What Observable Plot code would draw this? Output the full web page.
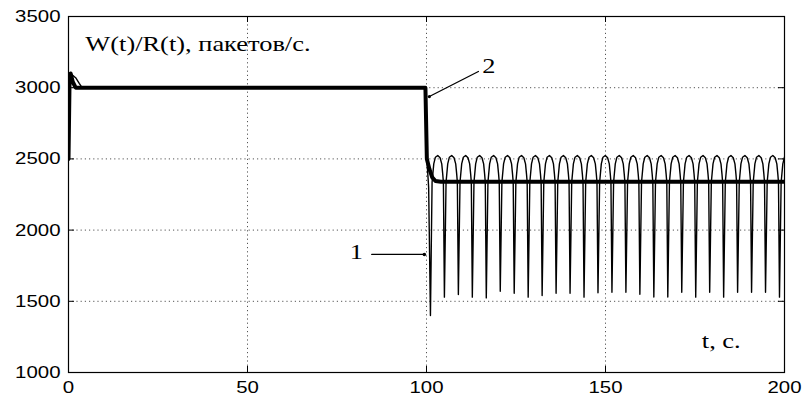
<!DOCTYPE html>
<html><head><meta charset="utf-8">
<script src="https://cdn.jsdelivr.net/npm/d3@7"></script>
<script src="https://cdn.jsdelivr.net/npm/@observablehq/plot@0.6"></script>
<style>html,body{margin:0;padding:0;background:#fff} svg{display:block}</style>
</head><body><div id="chart"></div>
<script>
// ---- axes ----
const xTicks = [0, 50, 100, 150, 200];
const yTicks = [1000, 1500, 2000, 2500, 3000, 3500];
const gridX = [50, 100, 150];
const gridY = [1500, 2000, 2500, 3000];

// ---- curve 2 (thick): W(t)/R(t) smooth ----
const t2 = [0, 0.3, 0.6, 1.2, 2.0, 99.7, 100.1, 100.8, 101.6, 102.5, 104, 200];
const w2 = [2500, 3060, 3100, 3040, 3000, 3000, 2500, 2430, 2370, 2345, 2340, 2340];

// ---- curve 1 (thin): lead-in before oscillations ----
const t1Lead = [0, 0.4, 1.0, 2.0, 3.0, 3.8, 99.7, 100.1, 100.6];
const w1Lead = [2500, 3100, 3090, 3070, 3030, 3000, 3000, 2500, 2300];
// times of the sharp drops and their minima
const dropT = [101.1, 105.0, 108.9, 112.8, 116.7, 120.6, 124.5, 128.4, 132.3, 136.2,
               140.1, 144.0, 147.9, 151.8, 155.7, 159.6, 163.5, 167.4, 171.3, 175.2,
               179.1, 183.0, 186.9, 190.8, 194.7, 198.6];
const dropMin = [1400, 1529, 1548, 1529, 1524, 1571, 1557, 1529, 1540, 1557,
                 1557, 1529, 1560, 1564, 1564, 1550, 1530, 1530, 1564, 1529,
                 1564, 1529, 1564, 1564, 1564, 1529];
// shape of one oscillation arc after a drop (seconds after drop, value)
const arcDt = [0.46, 0.93, 1.39, 2.04, 2.69, 3.16, 3.43, 3.62];
const arcW  = [2336, 2465, 2512, 2524, 2508, 2465, 2395, 2336];

// ---- annotations ----
const label2 = {t: 117.4, w: 3150, text: "2"};
const pointer2T = [100.8, 114.5], pointer2W = [2938, 3114];
const label1 = {t: 80.4, w: 1850, text: "1"};
const pointer1T = [84.7, 99.4], pointer1W = [1829, 1829];
const yTitle = {t: 4.7, w: 3310, text: "W(t)/R(t), пакетов/с."};
const xTitle = {t: 176.9, w: 1225, text: "t, с."};

// build tables
const thick = t2.map((t, i) => ({t, w: w2[i]}));
const thin = t1Lead.map((t, i) => ({t, w: w1Lead[i]}));
dropT.forEach((td, k) => {
  thin.push({t: td, w: dropMin[k]});
  arcDt.forEach((dt, j) => { if (td + dt <= 200) thin.push({t: td + dt, w: arcW[j]}); });
});
const p2 = pointer2T.map((t, i) => ({t, w: pointer2W[i]}));
const p1 = pointer1T.map((t, i) => ({t, w: pointer1W[i]}));

const serif = "Liberation Serif, Times New Roman, serif";
const W = 805, H = 399, mL = 68, mR = 21, mT = 16, mB = 27;
const innerW = W - mL - mR, innerH = H - mT - mB;

const plot = Plot.plot({
  width: W, height: H,
  marginLeft: mL, marginRight: mR, marginTop: mT, marginBottom: mB,
  style: {fontFamily: "Liberation Sans, Arial, sans-serif", fontSize: "17px", color: "black", background: "white"},
  x: {domain: [0, 200], ticks: xTicks},
  y: {domain: [1000, 3500], ticks: yTicks},
  marks: [
    Plot.ruleX(gridX, {stroke: "#555", strokeDasharray: "1.2,3", strokeWidth: 1}),
    Plot.ruleY(gridY, {stroke: "#555", strokeDasharray: "1.2,3", strokeWidth: 1}),
    // inward ticks
    Plot.tickX(xTicks, {x: d => d, insetTop: innerH - 6, stroke: "black"}),
    Plot.tickX(xTicks, {x: d => d, insetBottom: innerH - 6, stroke: "black"}),
    Plot.tickY(yTicks, {y: d => d, insetRight: innerW - 6, stroke: "black"}),
    Plot.tickY(yTicks, {y: d => d, insetLeft: innerW - 6, stroke: "black"}),
    Plot.axisX({ticks: xTicks, tickSize: 0, tickPadding: 8, label: null, tickFormat: d => String(d)}),
    Plot.axisY({ticks: yTicks, tickSize: 0, tickPadding: 8, label: null, tickFormat: d => String(d)}),
    Plot.line(thin, {x: "t", y: "w", stroke: "black", strokeWidth: 1.4, clip: true}),
    Plot.line(thick, {x: "t", y: "w", stroke: "black", strokeWidth: 4, clip: true}),
    Plot.line(p2, {x: "t", y: "w", stroke: "black", strokeWidth: 1.3}),
    Plot.dot([p2[0]], {x: "t", y: "w", r: 1.6, fill: "black"}),
    Plot.line(p1, {x: "t", y: "w", stroke: "black", strokeWidth: 1.3}),
    Plot.dot([p1[1]], {x: "t", y: "w", r: 1.8, fill: "black"}),
    Plot.text([label2], {x: "t", y: "w", text: "text", fontFamily: serif, fontSize: 22, fill: "black"}),
    Plot.text([label1], {x: "t", y: "w", text: "text", fontFamily: serif, fontSize: 22, fill: "black"}),
    Plot.text([yTitle], {x: "t", y: "w", text: "text", textAnchor: "start", fontFamily: serif, fontSize: 22, fill: "black"}),
    Plot.text([xTitle], {x: "t", y: "w", text: "text", textAnchor: "start", fontFamily: serif, fontSize: 22, fill: "black"}),
    Plot.frame({stroke: "black", strokeWidth: 1.2})
  ]
});
document.getElementById("chart").appendChild(plot);
// the reference picture is horizontally stretched: widen glyphs accordingly
plot.querySelectorAll("text").forEach(el => {
  const len = el.getComputedTextLength();
  if (len > 0) {
    el.setAttribute("textLength", (len * 1.2).toFixed(1));
    el.setAttribute("lengthAdjust", "spacingAndGlyphs");
  }
});
</script>
</body></html>
